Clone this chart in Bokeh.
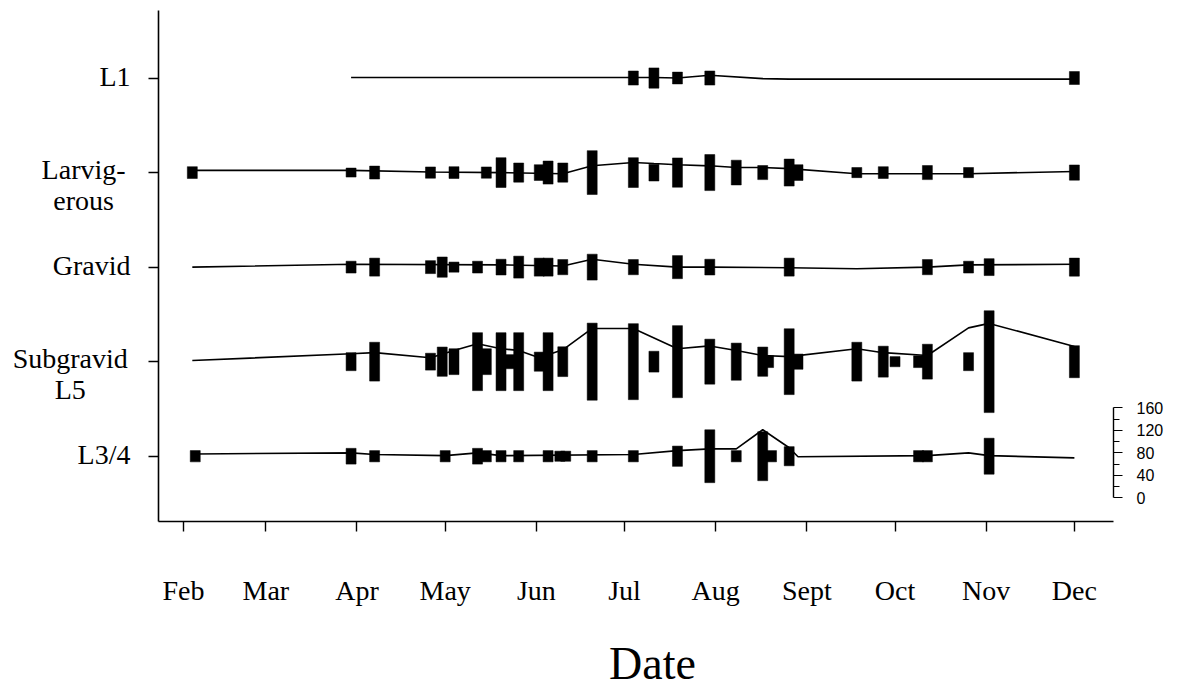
import pandas as pd
from bokeh.plotting import figure
from bokeh.layouts import row, column
from bokeh.models import Range1d, LinearAxis, FixedTicker
from bokeh.core.properties import value
from bokeh.embed import file_html
from bokeh.resources import INLINE

YEAR = 1995  # non-leap reference year for day-of-year positions

# ---- categories (bottom to top) ----
stages = ["L3/4", "Subgravid\nL5", "Gravid", "Larvig-\nerous", "L1"]

# ---- month ticks ----
month_starts = ["02-01", "03-01", "04-01", "05-01", "06-01", "07-01",
                "08-01", "09-01", "10-01", "11-01", "12-01"]
month_labels = ["Feb", "Mar", "Apr", "May", "Jun", "Jul",
                "Aug", "Sept", "Oct", "Nov", "Dec"]
x_title = "Date"

# ---- scale bar ticks ----
scale_ticks = [0, 40, 80, 120, 160]
scale_minor = [20, 60, 100, 140]

# ---- L3/4 ----
l34_dates = ["02-05", "03-30", "04-07", "05-01", "05-12", "05-15", "05-20", "05-26",
             "06-05", "06-09", "06-11", "06-20", "07-04", "07-19", "07-30", "08-08",
             "08-17", "08-20", "08-26", "10-09", "10-12", "11-02"]
l34_counts = [20, 28, 20, 20, 28, 20, 20, 20,
              20, 18, 18, 20, 20, 36, 94, 20,
              87, 20, 34, 20, 20, 64]
l34_line_dates = ["02-05", "03-30", "04-07", "05-01", "05-12", "05-20", "07-04", "07-19",
                  "07-30", "08-08", "08-17", "08-26", "08-29", "10-12", "10-26", "11-02", "12-01"]
l34_line_vals = [4, 6, 3, 1, 6, 1, 3, 10, 13, 13, 47, 15, -1, 1, 6, 1, -3]

# ---- Subgravid L5 ----
sub_dates = ["03-30", "04-07", "04-26", "04-30", "05-04", "05-12", "05-15", "05-20",
             "05-23", "05-26", "06-02", "06-05", "06-10", "06-20", "07-04", "07-11",
             "07-19", "07-30", "08-08", "08-17", "08-19", "08-26", "08-29", "09-18",
             "09-27", "10-01", "10-09", "10-12", "10-26", "11-02", "12-01"]
sub_counts = [32, 69, 30, 52, 46, 103, 46, 103,
              25, 103, 34, 103, 53, 137, 135, 37,
              128, 80, 66, 52, 21, 117, 27, 69,
              55, 18, 21, 62, 32, 181, 57]
sub_line_dates = ["02-04", "03-30", "04-07", "04-26", "05-04", "05-12", "05-20", "05-26",
                  "06-02", "06-10", "06-20", "07-04", "07-19", "07-30", "08-08", "08-17",
                  "08-26", "09-18", "09-27", "10-12", "10-26", "11-02", "12-01"]
sub_line_vals = [2, 14, 16, 7, 20, 32, 23, 20, 7, 21, 59, 59, 23, 28, 20, 11,
                 9, 23, 16, 11, 60, 68, 27]

# ---- Gravid ----
grav_dates = ["03-30", "04-07", "04-26", "04-30", "05-04", "05-12", "05-20", "05-26",
              "06-02", "06-05", "06-10", "06-20", "07-04", "07-19", "07-30", "08-26",
              "10-12", "10-26", "11-02", "12-01"]
grav_counts = [21, 32, 23, 36, 18, 21, 28, 39,
               32, 32, 27, 46, 27, 41, 28, 32,
               27, 21, 30, 32]
grav_line_dates = ["02-04", "03-30", "05-20", "06-10", "06-20", "07-04", "07-19", "07-30",
                   "08-26", "09-18", "10-12", "10-26", "12-01"]
grav_line_vals = [0, 5, 4, 2, 14, 5, 0, 0, -1, -3, 0, 4, 5]

# ---- Larvigerous ----
larv_dates = ["02-04", "03-30", "04-07", "04-26", "05-04", "05-15", "05-20", "05-26",
              "06-02", "06-05", "06-10", "06-20", "07-04", "07-11", "07-19", "07-30",
              "08-08", "08-17", "08-26", "08-29", "09-18", "09-27", "10-12", "10-26",
              "12-01"]
larv_counts = [21, 16, 23, 20, 21, 20, 53, 34,
               28, 41, 34, 78, 53, 30, 52, 64,
               44, 25, 48, 28, 18, 21, 25, 18,
               27]
larv_line_dates = ["02-04", "03-30", "04-26", "05-20", "06-10", "06-20", "07-04", "07-11",
                   "07-19", "07-30", "08-08", "08-17", "08-26", "09-18", "10-26", "12-01"]
larv_line_vals = [4, 4, 1, 0, -2, 12, 18, 16, 14, 12, 9, 9, 7, -2, -2, 2]

# ---- L1 ----
l1_dates = ["07-04", "07-11", "07-19", "07-30", "12-01"]
l1_counts = [25, 36, 21, 25, 23]
l1_line_dates = ["03-30", "07-04", "07-11", "07-19", "07-30", "08-17", "08-26", "12-01"]
l1_line_vals = [1, 1, 1, 0, 5, -1, -2, -2]


def doy(md):
    return pd.Timestamp(f"{YEAR}-{md}").dayofyear


ROW = 168    # vertical spacing between stage baselines, in count units
PX = 0.5625  # pixels per count unit
rows = [
    (l34_dates, l34_counts, l34_line_dates, l34_line_vals),
    (sub_dates, sub_counts, sub_line_dates, sub_line_vals),
    (grav_dates, grav_counts, grav_line_dates, grav_line_vals),
    (larv_dates, larv_counts, larv_line_dates, larv_line_vals),
    (l1_dates, l1_counts, l1_line_dates, l1_line_vals),
]

SERIF = "Liberation Serif"
LAB_W = 146          # width of the stage-label panel
TOP_H = 610          # height of the chart row
X0, X1 = 23.5, 348.3
Y0, Y1 = -116, 792
yr = Range1d(Y0, Y1)

# ---------------- main chart ----------------
p = figure(width=1175 - LAB_W, height=TOP_H, output_backend="svg",
           toolbar_location=None, x_range=Range1d(X0, X1), y_range=yr,
           min_border_left=12, min_border_right=62, min_border_top=10,
           min_border_bottom=89, x_axis_location=None, y_axis_location=None)
p.grid.visible = False
p.outline_line_color = None

for i, (bd, bc, ld, lv) in enumerate(rows):
    base = i * ROW
    p.line([doy(d) for d in ld], [base + v for v in lv],
           line_color="black", line_width=1.6)
    p.rect(x=[doy(d) for d in bd], y=[base] * len(bd), width=10,
           width_units="screen", height=bc, fill_color="black",
           line_color="black", line_width=0.5)

xaxis = LinearAxis(ticker=FixedTicker(ticks=[doy(m) for m in month_starts]))
xaxis.major_label_overrides = {doy(m): lab for m, lab in zip(month_starts, month_labels)}
xaxis.major_tick_in = 0
xaxis.major_tick_out = 10
xaxis.minor_tick_line_color = None
xaxis.axis_line_width = 1.6
xaxis.major_tick_line_width = 1.4
xaxis.major_label_standoff = 43
xaxis.major_label_text_font = SERIF
xaxis.major_label_text_font_size = "28px"
xaxis.major_label_text_color = "black"
p.add_layout(xaxis, "below")

yaxis = LinearAxis(ticker=FixedTicker(ticks=[i * ROW for i in range(len(stages))]))
yaxis.major_label_overrides = {i * ROW: "" for i in range(len(stages))}
yaxis.major_tick_in = 0
yaxis.major_tick_out = 10
yaxis.minor_tick_line_color = None
yaxis.axis_line_width = 1.6
yaxis.major_tick_line_width = 1.4
yaxis.major_label_standoff = 0
p.add_layout(yaxis, "left")

SCALE_ZERO = -74  # main-scale position of the scale bar's 0
p.extra_y_ranges = {"scale": Range1d(Y0 - SCALE_ZERO, Y1 - SCALE_ZERO)}
saxis = LinearAxis(y_range_name="scale", bounds=(0, 160),
                   ticker=FixedTicker(ticks=scale_ticks, minor_ticks=scale_minor))
saxis.major_tick_in = 0
saxis.major_tick_out = 9
saxis.minor_tick_in = 0
saxis.minor_tick_out = 6
saxis.axis_line_width = 1.4
saxis.major_label_standoff = 14
saxis.major_label_text_font = "Liberation Sans"
saxis.major_label_text_font_size = "16px"
saxis.major_label_text_color = "black"
p.add_layout(saxis, "right")

# ---------------- stage labels panel ----------------
lab = figure(width=LAB_W, height=TOP_H, output_backend="svg", toolbar_location=None,
             x_range=Range1d(0, LAB_W), y_range=yr,
             min_border_left=0, min_border_right=0, min_border_top=10,
             min_border_bottom=89, x_axis_location=None, y_axis_location=None)
lab.grid.visible = False
lab.outline_line_color = None

RIGHT_EDGE = 130  # right edge of the label column (panel pixels)
single = [(i, s) for i, s in enumerate(stages) if "\n" not in s]
multi = [(i, s) for i, s in enumerate(stages) if "\n" in s]
lab.text(x=[RIGHT_EDGE] * len(single), y=[i * ROW + 2 / PX for i, _ in single],
         text=[s for _, s in single], text_align="right", text_baseline="middle",
         text_font=value(SERIF), text_font_size="28px", text_color="black")
# two-line names: first line level with the tick, lines centred on each other
first_w = [len(s.split("\n")[0]) * 13.4 for _, s in multi]
lab.text(x=[RIGHT_EDGE - w / 2 for w in first_w],
         y=[i * ROW - 12 / PX for i, _ in multi],
         text=[s for _, s in multi], text_align="center", text_baseline="middle",
         text_line_height=1.0, text_font=value(SERIF), text_font_size="28px",
         text_color="black")

# ---------------- x-axis title panel ----------------
BOT_H = 80
dfig = figure(width=1175, height=BOT_H, output_backend="svg", toolbar_location=None,
              x_range=Range1d(0, 1175), y_range=Range1d(0, BOT_H),
              min_border=0, x_axis_location=None, y_axis_location=None)
dfig.grid.visible = False
dfig.outline_line_color = None
dfig.text(x=[652], y=[27], text=[x_title], text_align="center",
          text_baseline="middle", text_font=value(SERIF),
          text_font_size="46px", text_color="black")

layout = column(row(lab, p, spacing=0), dfig, spacing=0)
open("out.html", "w").write(file_html(layout, INLINE))
